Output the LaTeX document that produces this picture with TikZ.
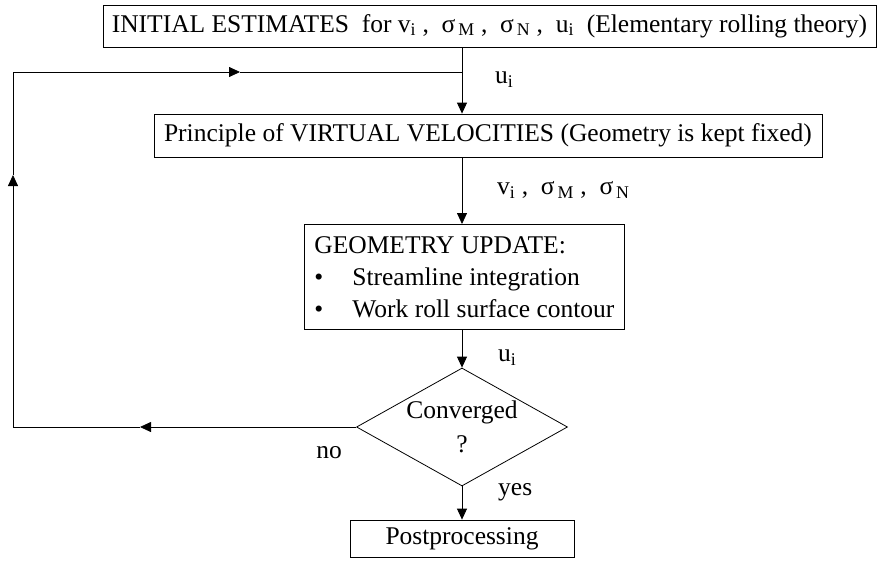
\documentclass[tikz,border=0pt]{standalone}
\usepackage{fontspec}
\setmainfont{Liberation Serif}
\usetikzlibrary{shapes.geometric,arrows.meta}

\begin{document}
\begin{tikzpicture}[x=1pt,y=-1pt,
    box/.style={draw,line width=0.8pt,inner sep=0pt,font=\fontsize{25.5}{30}\selectfont},
    lbl/.style={inner sep=0pt,font=\fontsize{25.5}{30}\selectfont},
    line/.style={line width=0.8pt},
    flow/.style={line width=0.8pt,-{Triangle[length=11pt,width=10pt]}}]
    \useasboundingbox (0,0) rectangle (878,565);
    % boxes of the iteration
    \node (init) at (489.5,26) [box,minimum width=773pt,minimum height=42pt] {INITIAL ESTIMATES\ \ for v\textsubscript{i} ,\ \ σ\textsubscript{\,M} ,\ \ σ\textsubscript{\,N} ,\ \ u\textsubscript{i}\ \ (Elementary rolling theory)};
    \node (virt) at (488,135.5) [box,minimum width=668pt,minimum height=43pt] {Principle of VIRTUAL VELOCITIES (Geometry is kept fixed)};
    \node (geom) at (304,224) [box,anchor=north west,inner xsep=10pt,minimum height=105pt,align=left,font=\fontsize{25.5}{32}\selectfont] {GEOMETRY UPDATE:\\\makebox[38pt][l]{•}Streamline integration\\\makebox[38pt][l]{•}Work roll surface contour};
    \node (conv) at (462,427) [box,diamond,shape aspect=1.8,minimum width=211pt,minimum height=118pt,align=center,font=\fontsize{25.5}{34}\selectfont] {Converged\\?};
    \node (post) at (462,538.5) [box,minimum width=224pt,minimum height=37pt] {Postprocessing};
    % loop back
    \coordinate (join) at (462,72);
    \coordinate (bl) at (13,427);
    \coordinate (tl) at (13,72);
    \coordinate (noTip) at (140,427);
    \coordinate (upTip) at (13,175);
    \coordinate (backTip) at (240,72);
    \draw[flow] (init.south -| join) -- (join |- virt.north);
    \draw[flow] (virt.south -| join) -- (join |- geom.north);
    \draw[flow] (geom.south -| join) -- (conv.north);
    \draw[flow] (conv.south) -- (post.north -| conv.south);
    \draw[flow] (conv.west) -- (noTip);
    \draw[flow] (noTip) -- (bl) -- (upTip);
    \draw[flow] (upTip) -- (tl) -- (backTip);
    \draw[line] (backTip) -- (join);
    % labels
    \node (l1) at (495,80) [lbl,anchor=west] {u\textsubscript{i}};
    \node (l2) at (497,190) [lbl,anchor=west] {v\textsubscript{i} ,\ \ σ\textsubscript{\,M} ,\ \ σ\textsubscript{\,N}};
    \node (l3) at (498,358) [lbl,anchor=west] {u\textsubscript{i}};
    \node (l4) at (342,453) [lbl,anchor=east] {no};
    \node (l5) at (498,492) [lbl,anchor=west] {yes};
\end{tikzpicture}
\end{document}
